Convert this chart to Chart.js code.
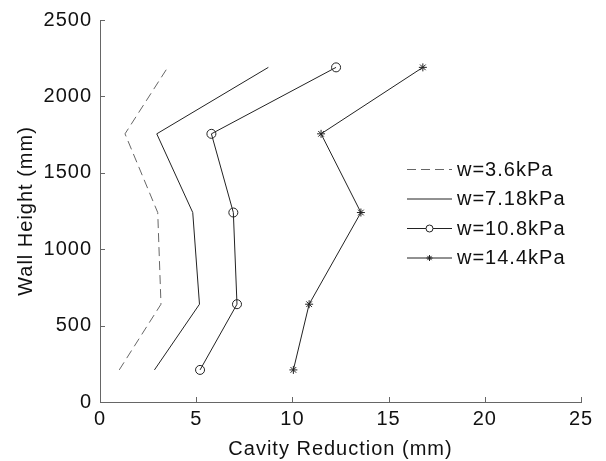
<!DOCTYPE html>
<html>
<head>
<meta charset="utf-8">
<script src="https://cdn.jsdelivr.net/npm/chart.js@4/dist/chart.umd.min.js"></script>
<style>
  html, body { margin: 0; padding: 0; background: #fff; }
  #wrap { width: 606px; height: 461px; }
</style>
</head>
<body>
<div id="wrap"><canvas id="wallChart"></canvas></div>
<script>
// wall heights (mm) where cavity reduction was measured
const heights = [210, 640, 1240, 1755, 2190]
// cavity reduction (mm) per wind pressure
const w36 = [1.0, 3.17, 3.0, 1.3, 3.52]
const w718 = [2.83, 5.17, 4.82, 2.95, 8.75]
const w108 = [5.2, 7.12, 6.93, 5.79, 12.27]
const w144 = [10.05, 10.87, 13.56, 11.49, 16.78]
const seriesLabels = ["w=3.6kPa", "w=7.18kPa", "w=10.8kPa", "w=14.4kPa"]
const xTicks = [0, 5, 10, 15, 20, 25]
const yTicks = [0, 500, 1000, 1500, 2000, 2500]

const FONT = "'Liberation Sans', Arial, sans-serif"
const SPACING = "1px"
const TEXT = "#111"

const toPoints = (xs) => xs.map((x, i) => ({ x: x, y: heights[i] }))

const spacingPlugin = {
  id: "spacing",
  beforeUpdate(chart) { chart.ctx.letterSpacing = SPACING },
  beforeDraw(chart) { chart.ctx.letterSpacing = SPACING },
}

// matlab style ticks pointing into the plot
const innerTicks = {
  id: "innerTicks",
  afterDraw(chart) {
    const { ctx, chartArea, scales } = chart
    ctx.save()
    ctx.strokeStyle = "#666"
    ctx.lineWidth = 1
    ctx.beginPath()
    xTicks.forEach((v) => {
      const px = Math.round(scales.x.getPixelForValue(v)) + 0.5
      ctx.moveTo(px, chartArea.bottom)
      ctx.lineTo(px, chartArea.bottom - 5)
    })
    yTicks.forEach((v) => {
      const py = Math.round(scales.y.getPixelForValue(v)) + 0.5
      ctx.moveTo(chartArea.left, py)
      ctx.lineTo(chartArea.left + 5, py)
    })
    ctx.stroke()
    ctx.restore()
  },
}

const customLegend = {
  id: "customLegend",
  afterDraw(chart) {
    const ctx = chart.ctx
    const x0 = 407, x1 = 452, top = 169, step = 29.5
    ctx.save()
    chart.data.datasets.forEach((ds, i) => {
      const y = top + i * step
      ctx.strokeStyle = ds.borderColor
      ctx.lineWidth = 1
      ctx.setLineDash(ds.borderDash || [])
      ctx.beginPath()
      ctx.moveTo(x0, y + 0.5)
      ctx.lineTo(x1, y + 0.5)
      ctx.stroke()
      ctx.setLineDash([])
      if (ds.pointRadius > 0) {
        ctx.fillStyle = ds.pointStyle === "circle" ? "#fff" : ds.pointBorderColor
        ctx.strokeStyle = ds.pointBorderColor
        Chart.helpers.drawPoint(ctx, {
          pointStyle: ds.pointStyle,
          radius: ds.pointRadius - 1,
          borderWidth: 1,
        }, (x0 + x1) / 2, y + 0.5)
      }
      ctx.fillStyle = TEXT
      ctx.font = "20px " + FONT
      ctx.textBaseline = "middle"
      ctx.textAlign = "left"
      ctx.fillText(ds.label, 457, y + 1)
    })
    ctx.restore()
  },
}

new Chart(document.getElementById("wallChart"), {
  type: "scatter",
  data: {
    datasets: [
      {
        label: seriesLabels[0],
        data: toPoints(w36),
        showLine: true,
        borderColor: "#666",
        borderWidth: 1,
        borderDash: [9, 5],
        pointRadius: 0,
      },
      {
        label: seriesLabels[1],
        data: toPoints(w718),
        showLine: true,
        borderColor: "#222",
        borderWidth: 1,
        pointRadius: 0,
      },
      {
        label: seriesLabels[2],
        data: toPoints(w108),
        showLine: true,
        borderColor: "#222",
        borderWidth: 1,
        pointStyle: "circle",
        pointRadius: 4.5,
        pointBorderWidth: 1,
        pointBorderColor: "#222",
        pointBackgroundColor: "rgba(0,0,0,0)",
      },
      {
        label: seriesLabels[3],
        data: toPoints(w144),
        showLine: true,
        borderColor: "#222",
        borderWidth: 1,
        pointStyle: "star",
        pointRadius: 4,
        pointBorderWidth: 1,
        pointBorderColor: "#222",
        pointBackgroundColor: "#222",
      },
    ],
  },
  options: {
    responsive: true,
    maintainAspectRatio: false,
    animation: false,
    layout: { padding: { top: 20, right: 25, left: 0, bottom: 0 } },
    plugins: {
      legend: { display: false },
      tooltip: { enabled: false },
    },
    scales: {
      x: {
        type: "linear",
        min: 0,
        max: 25,
        afterBuildTicks: (axis) => { axis.ticks = xTicks.map((v) => ({ value: v })) },
        afterFit: (axis) => { axis.height = 59 },
        grid: { display: false, drawTicks: false },
        border: { display: true, color: "#666", width: 1 },
        ticks: { color: TEXT, padding: 5, callback: (v) => String(v), font: { family: FONT, size: 20 } },
        title: {
          display: true,
          text: "Cavity Reduction (mm)",
          color: TEXT,
          padding: { top: 0, bottom: 0 },
          font: { family: FONT, size: 20 },
        },
      },
      y: {
        type: "linear",
        min: 0,
        max: 2500,
        afterBuildTicks: (axis) => { axis.ticks = yTicks.map((v) => ({ value: v })) },
        afterFit: (axis) => { axis.width = 100 },
        grid: { display: false, drawTicks: false },
        border: { display: true, color: "#666", width: 1 },
        ticks: { color: TEXT, padding: 8, callback: (v) => String(v), font: { family: FONT, size: 20 } },
        title: {
          display: true,
          text: "Wall Height (mm)",
          color: TEXT,
          padding: { top: 14, bottom: 0 },
          font: { family: FONT, size: 20 },
        },
      },
    },
  },
  plugins: [spacingPlugin, innerTicks, customLegend],
})
</script>
</body>
</html>
